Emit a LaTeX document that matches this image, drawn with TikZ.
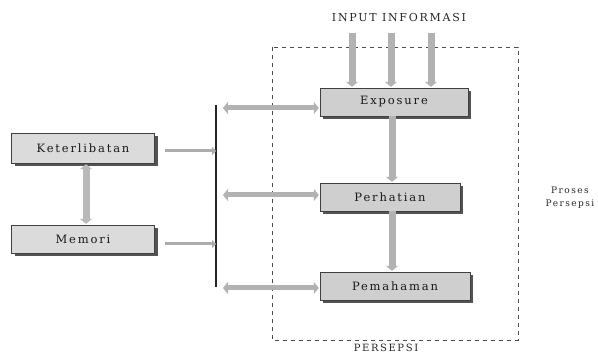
\documentclass[tikz,border=0pt]{standalone}
\usepackage{fontspec}
\newfontfamily\scanfont{DejaVu Serif}[LetterSpace=16]
\usetikzlibrary{arrows.meta,shadows}
\tikzset{
  stage/.style={draw=black!75, fill=gray!38, minimum height=28pt, inner sep=2pt,
    font=\scanfont\fontsize{11.5}{13}\selectfont, text=black!90,
    drop shadow={shadow xshift=3pt, shadow yshift=-3pt, fill=gray!50!black, opacity=.9}},
  fat/.style={line width=7pt, draw=gray!60, -{Triangle[length=5pt,width=12pt]}, shorten >=1pt},
  fatboth/.style={fat, {Triangle[length=5pt,width=12pt]}-{Triangle[length=5pt,width=12pt]}, shorten <=1pt},
  slim/.style={line width=3pt, draw=gray!65, -{Triangle[length=4pt,width=8pt]}},
  plaintext/.style={font=\scanfont\fontsize{10}{12}\selectfont, text=black!85, inner sep=0pt}
}
\begin{document}
\begin{tikzpicture}[x=1pt, y=-1pt]
  \useasboundingbox (0,0) rectangle (598,355);
  \node[plaintext, font=\scanfont\fontsize{11}{13}\selectfont] (input) at (399,17) {INPUT INFORMASI};
  \node[plaintext] (persepsi) at (386,348) {PERSEPSI};
  \node[plaintext, font=\scanfont\fontsize{9}{13}\selectfont, align=center] (proses) at (570,198) {Proses\\Persepsi};
  \draw[gray!60!black, dash pattern=on 4pt off 4pt] (272,47) rectangle (518,340);

  \node[stage, minimum width=148pt] (exposure) at (394,102) {Exposure};
  \node[stage, minimum width=140pt] (perhatian) at (390,197) {Perhatian};
  \node[stage, minimum width=150pt] (pemahaman) at (395,286) {Pemahaman};
  \node[stage, minimum width=143pt, minimum height=30pt, fill=gray!28] (keterlibatan) at (83,148) {Keterlibatan};
  \node[stage, minimum width=143pt, fill=gray!28] (memori) at (83,239) {Memori};

  \foreach \i/\x in {1/352,2/391,3/431} {
    \coordinate (in\i) at (\x,33);
    \draw[fat] (in\i) -- (in\i |- exposure.north);
  }
  \draw[fat] (exposure.south -| 392,0) -- (perhatian.north -| 392,0);
  \draw[fat] (perhatian.south -| 392,0) -- (pemahaman.north -| 392,0);
  \draw[fatboth, draw=gray!55] (keterlibatan.south -| 86,0) -- (memori.north -| 86,0);

  \coordinate (bustop) at (216,105);
  \coordinate (busbottom) at (216,287);
  \draw[black!85, line width=1.2pt] (bustop) -- (busbottom);
  \foreach \y/\n in {108/exposure,195/perhatian,288/pemahaman} {
    \coordinate (bus-\n) at (222,\y);
    \draw[fatboth, line width=5pt] (bus-\n) -- (bus-\n -| \n.west);
  }
  \draw[slim] ([xshift=10pt, yshift=-3pt]keterlibatan.east) -- ([yshift=-3pt]keterlibatan.east -| bustop);
  \draw[slim] ([xshift=10pt, yshift=-5pt]memori.east) -- ([yshift=-5pt]memori.east -| bustop);
\end{tikzpicture}
\end{document}
